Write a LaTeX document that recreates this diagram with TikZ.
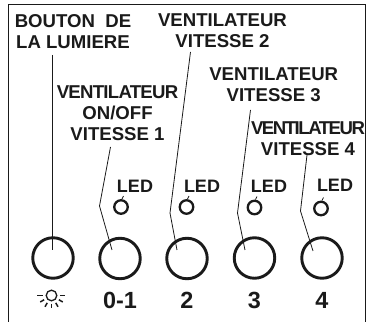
\documentclass[tikz,border=0pt]{standalone}
\usepackage{fontspec}
\setmainfont{Liberation Sans}
\definecolor{ink}{HTML}{1A1A1A}
\newfontfamily\tightA{Liberation Sans}[LetterSpace=-4,BoldFont={Liberation Sans Bold}]
\newfontfamily\tightB{Liberation Sans}[LetterSpace=-8,BoldFont={Liberation Sans Bold}]
\tikzset{
  x=1pt,y=-1pt,
  lbl/.style={font=\fontsize{18.6}{21}\selectfont\bfseries,text=ink,align=center,inner sep=0pt},
  led/.style={font=\fontsize{18}{20}\selectfont\bfseries,text=ink,inner sep=0pt},
  num/.style={font=\fontsize{23.4}{26}\selectfont\bfseries,text=ink,inner sep=0pt},
  btn/.style={circle,draw=ink,line width=2.9pt,minimum size=40.5pt,inner sep=0pt},
  ledring/.style={circle,draw=ink,line width=2.3pt,minimum size=13.5pt,inner sep=0pt},
  lead/.style={draw=ink,line width=0.8pt},
  frame/.style={draw=ink,line width=1pt},
  sunray/.style={draw=ink,line width=1.5pt}
}
\begin{document}
\begin{tikzpicture}
\useasboundingbox (0,0) rectangle (368,323);
\draw[frame] (8.5,322) -- (8.5,5) -- (366,5) -- (366,322);
\node[lbl] (t0) at (73,31.5) {BOUTON\ \ DE\\LA LUMIERE};
\node[lbl] (t1) at (117.5,113) {{\tightA VENTILATEUR}\\ON/OFF\\VITESSE 1};
\node[lbl] (t2) at (222.5,31) {VENTILATEUR\\VITESSE 2};
\node[lbl] (t3) at (273.7,85) {VENTILATEUR\\VITESSE 3};
\node[lbl] (t4) at (308,138.5) {{\tightB VENTILATEUR}\\VITESSE 4};
\node[btn] (b0) at (53,258) {};
\node[btn] (b1) at (120,258.5) {};
\node[btn] (b2) at (187,258.5) {};
\node[btn] (b3) at (254.5,258) {};
\node[btn] (b4) at (322,258) {};
\node[ledring] (l1) at (121,207) {};
\node[ledring] (l2) at (186.5,207) {};
\node[ledring] (l3) at (254.5,207.5) {};
\node[ledring] (l4) at (321,208.5) {};
\node[led] (e1) at (135,186) {LED};
\node[led] (e2) at (202,186) {LED};
\node[led] (e3) at (269,186.5) {LED};
\node[led] (e4) at (335,185.5) {LED};
\node[num] (n1) at (120,300.5) {0-1};
\node[num] (n2) at (187,300.5) {2};
\node[num] (n3) at (254.5,300.5) {3};
\node[num] (n4) at (322,300.5) {4};
\coordinate (c0) at (52.5,55);
\coordinate (d0) at (52.5,250);
\coordinate (c1) at (110.5,147);
\coordinate (k1) at (99.5,206);
\coordinate (d1) at (112,250);
\coordinate (c2) at (190.5,52);
\coordinate (k2) at (170,213);
\coordinate (d2) at (177,250);
\coordinate (c3) at (250.5,110);
\coordinate (k3) at (237.5,213);
\coordinate (d3) at (245,250);
\coordinate (c4) at (307,155);
\coordinate (k4) at (300.5,211);
\coordinate (d4) at (313,251);
\draw[lead] (c0) -- (d0);
\draw[lead] (c1) -- (k1) -- (d1);
\draw[lead] (c2) -- (k2) -- (d2);
\draw[lead] (c3) -- (k3) -- (d3);
\draw[lead] (c4) -- (k4) -- (d4);
\draw[lead] (l1.north) ++(1,0) -- ++(1.5,-3);
\draw[lead] (l2.north) ++(1,0) -- ++(1.5,-3);
\draw[lead] (l3.north) ++(1,0) -- ++(1.5,-3);
\draw[lead] (l4.north) ++(1,0) -- ++(1.5,-3);
% sun icon
\coordinate (s) at (51.5,295.5);
\draw[draw=ink,line width=1.3pt] (s) circle (5.3);
\foreach \a in {0,180}{\draw[sunray] (s) ++(\a:8.5) -- ++(\a:5.5);}
\foreach \a in {30,60,90,120,150}{\draw[sunray] (s) ++(\a:8.5) -- ++(\a:4.5);}
\end{tikzpicture}
\end{document}
